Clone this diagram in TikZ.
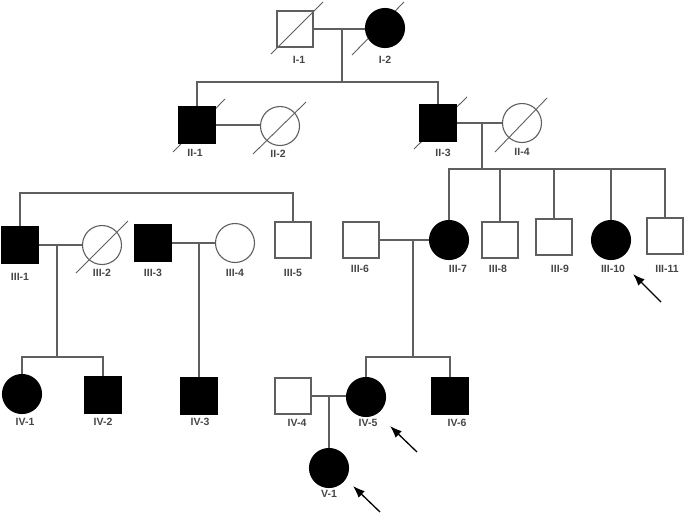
\documentclass[tikz,border=0pt]{standalone}
\usepackage{fontspec}
\setmainfont{Liberation Sans}
\usetikzlibrary{arrows.meta}
\definecolor{ln}{RGB}{95,95,95}
\definecolor{lbl}{RGB}{70,70,70}
\tikzset{
  male/.style={draw=ln, line width=1.1pt, rectangle, minimum size=36pt, inner sep=0pt},
  female/.style={draw=ln, line width=1.1pt, circle, minimum size=39pt, inner sep=0pt},
  aff/.style={fill=black, draw=black},
  conn/.style={draw=ln, line width=1.1pt},
  slash/.style={draw=ln, line width=0.9pt},
  lab/.style={font=\bfseries\fontsize{10.5}{12}\selectfont, text=lbl, inner sep=0pt},
  proband/.style={draw=black, line width=1.3pt, -{Latex[length=12pt,width=9pt]}},
}
\begin{document}
\begin{tikzpicture}[x=1pt,y=-1pt]
\useasboundingbox[fill=white] (0,0) rectangle (685,515);
% deceased slashes (drawn first, behind the shapes)
\coordinate (d1a) at (271,54);  \coordinate (d1b) at (323,2);
\coordinate (d2a) at (352,55);  \coordinate (d2b) at (404,2);
\coordinate (d3a) at (173,152); \coordinate (d3b) at (225,99);
\coordinate (d4a) at (253,154); \coordinate (d4b) at (306,102);
\coordinate (d5a) at (414,149); \coordinate (d5b) at (467,97);
\coordinate (d6a) at (495,152); \coordinate (d6b) at (547,98);
\coordinate (d7a) at (76,273);  \coordinate (d7b) at (128,221);
\foreach \k in {1,...,7} {\draw[slash] (d\k a) -- (d\k b);}
% Generation I
\node[male] (i1) at (295,29) {};
\node[female,aff] (i2) at (385,28) {};
% Generation II
\node[male,aff] (ii1) at (197,125) {};
\node[female] (ii2) at (280,126) {};
\node[male,aff] (ii3) at (438,123) {};
\node[female] (ii4) at (522,123) {};
% Generation III
\node[male,aff] (iii1) at (20,245) {};
\node[female] (iii2) at (102,245) {};
\node[male,aff] (iii3) at (153,243) {};
\node[female] (iii4) at (235,243) {};
\node[male] (iii5) at (293,240) {};
\node[male] (iii6) at (361,240) {};
\node[female,aff] (iii7) at (449,240) {};
\node[male] (iii8) at (500,240) {};
\node[male] (iii9) at (554,237) {};
\node[female,aff] (iii10) at (611,240) {};
\node[male] (iii11) at (665,236) {};
% Generation IV
\node[female,aff] (iv1) at (22,394) {};
\node[male,aff] (iv2) at (103,395) {};
\node[male,aff] (iv3) at (199,396) {};
\node[male] (iv4) at (293,396) {};
\node[female,aff] (iv5) at (366,397) {};
\node[male,aff] (iv6) at (450,396) {};
% Generation V
\node[female,aff] (v1) at (329,468) {};

% I mating and sibship
\coordinate (m1) at (342,29);
\coordinate (s1) at (342,82);
\draw[conn] (i1.east) -- (i1.east -| i2.west);
\draw[conn] (m1) -- (s1);
\draw[conn] (ii1.north) |- (s1) -| (ii3.north);

% II matings
\draw[conn] (ii1.east) -- (ii1.east -| ii2.west);
\draw[conn] (ii3.east) -- (ii4.west);
\coordinate (m2) at (482,123);
\coordinate (s2) at (482,169);
\draw[conn] (m2) -- (s2);
\draw[conn] (iii7.north) |- (s2) -| (iii11.north);
\draw[conn] (iii8.north) -- (iii8.north |- s2);
\draw[conn] (iii9.north) -- (iii9.north |- s2);
\draw[conn] (iii10.north) -- (iii10.north |- s2);

% sibship III-1 .. III-5
\coordinate (s3) at (150,193);
\draw[conn] (iii1.north) |- (s3) -| (iii5.north);

% III matings
\draw[conn] (iii1.east) -- (iii1.east -| iii2.west);
\coordinate (m3) at (57,246);
\coordinate (s4) at (57,357);
\draw[conn] (m3) -- (s4);
\draw[conn] (iv1.north) |- (s4) -| (iv2.north);

\draw[conn] (iii3.east) -- (iii4.west);
\coordinate (m4) at (199,243);
\draw[conn] (m4) -- (iv3.north);

\draw[conn] (iii6.east) -- (iii6.east -| iii7.west);
\coordinate (m5) at (413,240);
\coordinate (s5) at (413,357);
\draw[conn] (m5) -- (s5);
\draw[conn] (iv5.north) |- (s5) -| (iv6.north);

% IV mating
\draw[conn] (iv4.east) -- (iv4.east -| iv5.west);
\coordinate (m6) at (329,396);
\draw[conn] (m6) -- (v1.north);

% labels
\node[lab] (l1) at (299,60) {I-1};
\node[lab] (l2) at (385,60) {I-2};
\node[lab] (l3) at (195,153) {II-1};
\node[lab] (l4) at (278,154) {II-2};
\node[lab] (l5) at (443,153) {II-3};
\node[lab] (l6) at (522,152) {II-4};
\node[lab] (l7) at (20,277) {III-1};
\node[lab] (l8) at (102,273) {III-2};
\node[lab] (l9) at (153,273) {III-3};
\node[lab] (l10) at (235,273) {III-4};
\node[lab] (l11) at (293,273) {III-5};
\node[lab] (l12) at (360,269) {III-6};
\node[lab] (l13) at (458,269) {III-7};
\node[lab] (l14) at (498,269) {III-8};
\node[lab] (l15) at (560,269) {III-9};
\node[lab] (l16) at (613,269) {III-10};
\node[lab] (l17) at (667,269) {III-11};
\node[lab] (l18) at (25,422) {IV-1};
\node[lab] (l19) at (103,422) {IV-2};
\node[lab] (l20) at (200,422) {IV-3};
\node[lab] (l21) at (297,423) {IV-4};
\node[lab] (l22) at (368,423) {IV-5};
\node[lab] (l23) at (457,423) {IV-6};
\node[lab] (l24) at (329,494) {V-1};

% proband arrows
\coordinate (a1t) at (661,302); \coordinate (a1h) at (633,274);
\coordinate (a2t) at (417,452); \coordinate (a2h) at (390,426);
\coordinate (a3t) at (380,512); \coordinate (a3h) at (353,486);
\draw[proband] (a1t) -- (a1h);
\draw[proband] (a2t) -- (a2h);
\draw[proband] (a3t) -- (a3h);
\end{tikzpicture}
\end{document}
